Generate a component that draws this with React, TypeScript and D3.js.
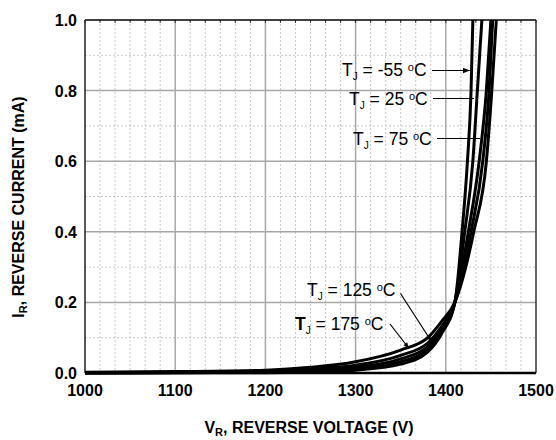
import React from "react";
import * as d3 from "d3";

const W = 556;
const H = 440;
const M = { left: 85, right: 20, top: 20, bottom: 67 };

const xTicks = [1000, 1100, 1200, 1300, 1400, 1500];
const yTicks = [0.0, 0.2, 0.4, 0.6, 0.8, 1.0];
const xMinor = d3.range(1000, 1500.01, 100 / 6);
const yMinor = [0.1, 0.3, 0.5, 0.7, 0.9];

const tempLabels = ["-55", "25", "75", "125", "175"];

const vM55 = [1000, 1100, 1200, 1250, 1300, 1350, 1380, 1395, 1410, 1418, 1424, 1428, 1430];
const iM55 = [0, 0.0005, 0.001, 0.003, 0.008, 0.025, 0.06, 0.11, 0.2, 0.4, 0.6, 0.8, 1.0];
const v25 = [1000, 1100, 1200, 1250, 1300, 1350, 1380, 1395, 1410, 1421, 1430, 1435, 1440];
const i25 = [0, 0.001, 0.002, 0.005, 0.012, 0.032, 0.068, 0.115, 0.2, 0.4, 0.6, 0.8, 1.0];
const v75 = [1000, 1100, 1200, 1250, 1300, 1350, 1380, 1395, 1410, 1425, 1437, 1445, 1450];
const i75 = [0.0005, 0.0015, 0.003, 0.008, 0.016, 0.04, 0.075, 0.12, 0.2, 0.4, 0.6, 0.8, 1.0];
const v125 = [1000, 1100, 1200, 1250, 1300, 1350, 1380, 1395, 1410, 1428, 1441, 1448, 1452];
const i125 = [0.001, 0.002, 0.005, 0.011, 0.022, 0.05, 0.085, 0.13, 0.2, 0.4, 0.6, 0.8, 1.0];
const v175 = [1000, 1100, 1200, 1250, 1300, 1350, 1380, 1395, 1410, 1431, 1445, 1451, 1456];
const i175 = [0.002, 0.004, 0.008, 0.016, 0.032, 0.065, 0.1, 0.145, 0.2, 0.4, 0.6, 0.8, 1.0];

const seriesV = [vM55, v25, v75, v125, v175];
const seriesI = [iM55, i25, i75, i125, i175];

const FONT = "Arial, 'Liberation Sans', sans-serif";

function TLabel({ x, y, t, boldT }: { x: number; y: number; t: string; boldT?: boolean }) {
  return (
    <text x={x} y={y} fontFamily={FONT} fontSize={17.5} fill="#000">
      <tspan fontWeight={boldT ? "bold" : "normal"}>T</tspan>
      <tspan fontSize={10} dy={4}>J</tspan>
      <tspan dy={-4}>{` = ${t} `}</tspan>
      <tspan fontSize={11} dy={-5}>o</tspan>
      <tspan dy={5}>C</tspan>
    </text>
  );
}

export default function App() {
  const x = d3.scaleLinear().domain([1000, 1500]).range([M.left, W - M.right]);
  const y = d3.scaleLinear().domain([0, 1]).range([H - M.bottom, M.top]);
  const x0 = x(1000), x1 = x(1500), y0 = y(0), y1 = y(1);

  const line = d3
    .line<[number, number]>()
    .x((d) => x(d[0]))
    .y((d) => y(d[1]))
    .curve(d3.curveMonotoneX);

  const arrows = [
    { x1: 432, y1: 70.5, x2: 470, y2: 70.5, head: 7 },
    { x1: 433, y1: 98.5, x2: 474, y2: 98.5, head: 4 },
    { x1: 437, y1: 138.5, x2: 480, y2: 138.5, head: 0 },
    { x1: 400.5, y1: 293.5, x2: 431.5, y2: 341.5, head: 6 },
    { x1: 390, y1: 324, x2: 409, y2: 348.5, head: 6 },
  ];

  return (
    <svg width={W} height={H} style={{ position: "absolute", left: 0, top: 0, background: "#fff" }}>
      <defs>
        <clipPath id="plot">
          <rect x={x0} y={y1} width={x1 - x0} height={y0 - y1 + 2} />
        </clipPath>
      </defs>
      {/* minor grid */}
      {xMinor
        .filter((v) => Math.abs(v - Math.round(v / 100) * 100) > 1)
        .map((v, i) => (
          <line key={"xm" + i} x1={x(v)} x2={x(v)} y1={y1} y2={y0} stroke="#c8c8c8" strokeWidth={1} strokeDasharray="2,2" />
        ))}
      {yMinor.map((v, i) => (
        <line key={"ym" + i} x1={x0} x2={x1} y1={y(v)} y2={y(v)} stroke="#c8c8c8" strokeWidth={1} strokeDasharray="2,2" />
      ))}
      {/* major grid */}
      {xTicks.slice(1, -1).map((v) => (
        <line key={"xg" + v} x1={x(v)} x2={x(v)} y1={y1} y2={y0} stroke="#a8a8a8" strokeWidth={1.5} />
      ))}
      {yTicks.slice(1, -1).map((v) => (
        <line key={"yg" + v} x1={x0} x2={x1} y1={y(v)} y2={y(v)} stroke="#a8a8a8" strokeWidth={1.5} />
      ))}
      {/* small ticks top */}
      {xMinor.map((v, i) => (
        <line key={"tt" + i} x1={x(v)} x2={x(v)} y1={y1} y2={y1 + 3} stroke="#333" strokeWidth={1} />
      ))}
      {/* frame */}
      <line x1={x0} x2={x1} y1={y1} y2={y1} stroke="#000" strokeWidth={1.5} />
      <line x1={x1} x2={x1} y1={y1} y2={y0} stroke="#333" strokeWidth={1.5} />
      <line x1={x0} x2={x0} y1={y1} y2={y0} stroke="#222" strokeWidth={1.5} />
      <line x1={x0} x2={x1} y1={y0} y2={y0} stroke="#000" strokeWidth={2.5} />

      {/* curves */}
      <g clipPath="url(#plot)">
        {seriesV.map((vs, k) => (
          <path
            key={"c" + k}
            d={line(vs.map((v, j) => [v, seriesI[k][j]] as [number, number])) || ""}
            fill="none"
            stroke="#000"
            strokeWidth={3}
            strokeLinejoin="round"
          />
        ))}
      </g>

      {/* arrows */}
      {arrows.map((a, i) => {
        const ang = Math.atan2(a.y2 - a.y1, a.x2 - a.x1);
        const h = a.head;
        const p1 = [a.x2 - h * Math.cos(ang) + (h / 2.6) * Math.sin(ang), a.y2 - h * Math.sin(ang) - (h / 2.6) * Math.cos(ang)];
        const p2 = [a.x2 - h * Math.cos(ang) - (h / 2.6) * Math.sin(ang), a.y2 - h * Math.sin(ang) + (h / 2.6) * Math.cos(ang)];
        return (
          <g key={"a" + i}>
            <line x1={a.x1} y1={a.y1} x2={a.x2} y2={a.y2} stroke="#000" strokeWidth={1.2} />
            {h > 0 && <polygon points={`${a.x2},${a.y2} ${p1[0]},${p1[1]} ${p2[0]},${p2[1]}`} fill="#000" />}
          </g>
        );
      })}

      {/* labels */}
      <TLabel x={342} y={76} t={tempLabels[0]} />
      <TLabel x={349} y={105} t={tempLabels[1]} />
      <TLabel x={353} y={145} t={tempLabels[2]} />
      <TLabel x={307} y={296} t={tempLabels[3]} />
      <TLabel x={295} y={330} t={tempLabels[4]} boldT />

      {/* tick labels */}
      {xTicks.map((v) => (
        <text key={"xl" + v} x={x(v)} y={396} textAnchor="middle" fontFamily={FONT} fontWeight="bold" fontSize={16}>
          {v}
        </text>
      ))}
      {yTicks.map((v) => (
        <text key={"yl" + v} x={77} y={y(v) + 6} textAnchor="end" fontFamily={FONT} fontWeight="bold" fontSize={16}>
          {v.toFixed(1)}
        </text>
      ))}

      {/* axis titles */}
      <text x={309} y={433} textAnchor="middle" fontFamily={FONT} fontWeight="bold" fontSize={16}>
        V<tspan fontSize={11} dy={3}>R</tspan>
        <tspan dy={-3}>, REVERSE VOLTAGE (V)</tspan>
      </text>
      <text
        transform={`translate(24, 207) rotate(-90)`}
        textAnchor="middle"
        fontFamily={FONT}
        fontWeight="bold"
        fontSize={16}
      >
        I<tspan fontSize={11} dy={3}>R</tspan>
        <tspan dy={-3}>, REVERSE CURRENT (mA)</tspan>
      </text>
    </svg>
  );
}
